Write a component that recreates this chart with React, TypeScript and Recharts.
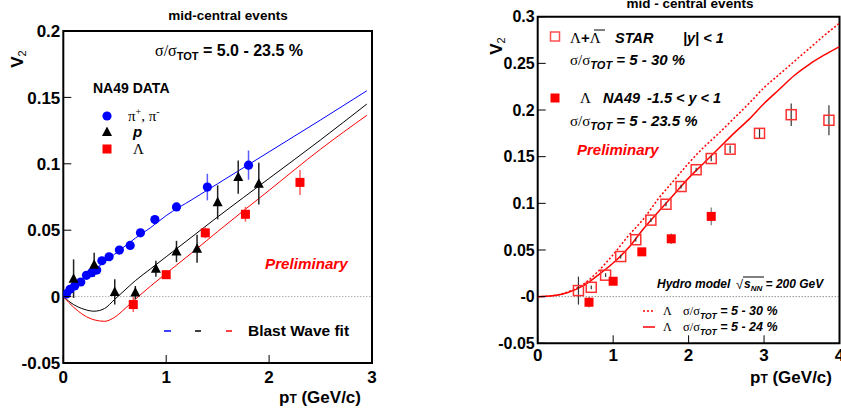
import {
  ComposedChart,
  Scatter,
  Line,
  XAxis,
  YAxis,
  ErrorBar,
  ReferenceLine,
  ReferenceArea,
} from 'recharts';

// left panel: NA49 data with blast wave fits
const pionPt = [0.03, 0.065, 0.11, 0.17, 0.225, 0.275, 0.325, 0.375, 0.445, 0.545, 0.65, 0.75, 0.89, 1.1, 1.4, 1.8];
const pionV2 = [0.002, 0.0055, 0.008, 0.011, 0.016, 0.018, 0.02, 0.027, 0.03, 0.035, 0.0385, 0.048, 0.058, 0.0675, 0.0825, 0.099];
const pionErr = [0, 0, 0, 0, 0, 0, 0, 0, 0, 0, 0, 0, 0, 0.001, 0.01, 0.011];

const protonPt = [0.1, 0.3, 0.5, 0.7, 0.9, 1.1, 1.3, 1.5, 1.7, 1.9];
const protonV2 = [0.0135, 0.024, 0.0035, 0.003, 0.021, 0.034, 0.036, 0.071, 0.09, 0.085];
const protonErr = [0.0145, 0.009, 0.0095, 0.005, 0.006, 0.008, 0.0105, 0.0128, 0.0125, 0.0157];

const lambdaPt = [0.68, 1.0, 1.38, 1.77, 2.3];
const lambdaV2 = [-0.006, 0.0165, 0.048, 0.062, 0.086];
const lambdaErr = [0.0056, 0.003, 0.004, 0.0056, 0.0094];

const bwPt = [0, 0.1, 0.2, 0.3, 0.4, 0.5, 0.6, 0.7, 0.85, 1.0, 1.25, 1.5, 2.0, 2.5, 2.95];
const bwPion = [0, 0.007, 0.0135, 0.02, 0.026, 0.032, 0.038, 0.044, 0.052, 0.061, 0.073, 0.085, 0.109, 0.133, 0.155];
const bwProton = [0, -0.006, -0.0095, -0.011, -0.009, -0.002, 0.005, 0.012, 0.021, 0.03, 0.045, 0.06, 0.089, 0.118, 0.145];
const bwLambda = [0, -0.008, -0.014, -0.0175, -0.0186, -0.0155, -0.009, -0.002, 0.008, 0.0175, 0.033, 0.049, 0.08, 0.111, 0.1365];

// right panel: STAR vs NA49 lambdas, hydro curves
const starPt = [0.54, 0.71, 0.9, 1.1, 1.3, 1.5, 1.7, 1.9, 2.1, 2.3, 2.55, 2.94, 3.36, 3.86];
const starV2 = [0.0065, 0.01, 0.023, 0.043, 0.061, 0.082, 0.099, 0.118, 0.136, 0.148, 0.158, 0.175, 0.195, 0.189];
const starErr = [0.015, 0.002, 0.002, 0.002, 0.002, 0.002, 0.002, 0.002, 0.002, 0.003, 0.004, 0.005, 0.012, 0.016];

const hydroPt = [0, 0.2, 0.4, 0.6, 0.8, 1.0, 1.2, 1.4, 1.6, 1.8, 2.0, 2.2, 2.4, 2.6, 2.8, 3.0, 3.2, 3.4, 3.6, 3.8, 4.0];
const hydro24 = [0, 0.001, 0.0045, 0.0115, 0.023, 0.036, 0.052, 0.0725, 0.091, 0.109, 0.127, 0.143, 0.159, 0.175, 0.19, 0.207, 0.222, 0.237, 0.249, 0.259, 0.268];
const hydro30 = [0, 0.001, 0.005, 0.013, 0.027, 0.045, 0.065, 0.083, 0.105, 0.124, 0.143, 0.16, 0.175, 0.191, 0.207, 0.224, 0.238, 0.252, 0.266, 0.28, 0.293];

const leftXTicks = [0, 1, 2, 3];
const leftYTicks = [-0.05, 0, 0.05, 0.1, 0.15, 0.2];
const rightXTicks = [0, 1, 2, 3, 4];
const rightYTicks = [-0.05, 0, 0.05, 0.1, 0.15, 0.2, 0.25, 0.3];

const pts = (xs: number[], ys: number[], es?: number[]) =>
  xs.map((x, i) => ({ x, y: ys[i], e: es ? es[i] : 0 }));

const SANS = '"Liberation Sans", Arial, sans-serif';
const SERIF = '"Liberation Serif", "Times New Roman", serif';
const RED = '#ff0000';
const BLUE = '#0000ff';

const makeYTick = (fs: number, zero: string) => (props: any) => {
  const { x, y, payload } = props;
  const v = payload.value;
  return (
    <g>
      <line x1={x} x2={x + 8} y1={y} y2={y} stroke="#000" strokeWidth={1} />
      <text x={x - 3} y={y + fs * 0.36} textAnchor="end" fontSize={fs} fontWeight="bold" fontFamily={SANS} fill="#000">
        {v === 0 ? zero : String(v)}
      </text>
    </g>
  );
};

const makeXTick = (fs: number, dy: number) => (props: any) => {
  const { x, y, payload } = props;
  return (
    <g>
      <line x1={x} x2={x} y1={y} y2={y - 8} stroke="#000" strokeWidth={1} />
      <text x={x} y={y + dy} textAnchor="middle" fontSize={fs} fontWeight="bold" fontFamily={SANS} fill="#000">
        {String(payload.value)}
      </text>
    </g>
  );
};

const circleShape = (p: any) => <circle cx={p.cx} cy={p.cy} r={4.6} fill={BLUE} />;
const triShape = (p: any) => (
  <polygon points={`${p.cx},${p.cy - 5.5} ${p.cx - 5},${p.cy + 4} ${p.cx + 5},${p.cy + 4}`} fill="#000" />
);
const squareShape = (p: any) => <rect x={p.cx - 4.5} y={p.cy - 4.5} width={9} height={9} fill={RED} />;
const openSquare = (p: any) => (
  <rect x={p.cx - 5} y={p.cy - 5} width={10} height={10} fill="none" stroke="#ff3030" strokeWidth={1.5} />
);

function LeftPanel() {
  return (
    <ComposedChart
      width={841}
      height={412}
      margin={{ top: 31, right: 469, bottom: 48, left: 62.3 }}
      style={{ position: 'absolute', left: 0, top: 0 }}
    >
      <XAxis dataKey="x" type="number" domain={[0, 3]} ticks={leftXTicks} height={1} tickSize={0} tickMargin={0}
        axisLine={false} tickLine={false} tick={makeXTick(17, 20)} interval={0} allowDataOverflow />
      <YAxis dataKey="y" type="number" domain={[-0.05, 0.2]} ticks={leftYTicks} width={1} tickSize={0} tickMargin={0}
        axisLine={false} tickLine={false} tick={makeYTick(17, '0')} interval={0} allowDataOverflow />
      <ReferenceArea x1={0} x2={3} y1={-0.05} y2={0.2} fill="none" stroke="#000" strokeWidth={2} />
      <ReferenceLine y={0} stroke="#888" strokeDasharray="1 2" strokeWidth={1} />
      <Line data={pts(bwPt, bwPion)} dataKey="y" type="monotone" dot={false} stroke={BLUE} strokeWidth={1} isAnimationActive={false} />
      <Line data={pts(bwPt, bwProton)} dataKey="y" type="monotone" dot={false} stroke="#000" strokeWidth={1} isAnimationActive={false} />
      <Line data={pts(bwPt, bwLambda)} dataKey="y" type="monotone" dot={false} stroke={RED} strokeWidth={1} isAnimationActive={false} />
      <Scatter data={pts(pionPt, pionV2, pionErr)} dataKey="y" shape={circleShape} isAnimationActive={false}>
        <ErrorBar dataKey="e" direction="y" width={0} stroke="#5a5aff" strokeWidth={1.5} />
      </Scatter>
      <Scatter data={pts(protonPt, protonV2, protonErr)} dataKey="y" shape={triShape} isAnimationActive={false}>
        <ErrorBar dataKey="e" direction="y" width={0} stroke="#222" strokeWidth={1.5} />
      </Scatter>
      <Scatter data={pts(lambdaPt, lambdaV2, lambdaErr)} dataKey="y" shape={squareShape} isAnimationActive={false}>
        <ErrorBar dataKey="e" direction="y" width={0} stroke="#ff5a5a" strokeWidth={1.5} />
      </Scatter>
    </ComposedChart>
  );
}

function RightPanel() {
  return (
    <ComposedChart
      width={841}
      height={412}
      margin={{ top: 16.7, right: 1.5, bottom: 67.7, left: 536.7 }}
      style={{ position: 'absolute', left: 0, top: 0 }}
    >
      <XAxis dataKey="x" type="number" domain={[0, 4]} ticks={rightXTicks} height={1} tickSize={0} tickMargin={0}
        axisLine={false} tickLine={false} tick={makeXTick(17, 18)} interval={0} allowDataOverflow />
      <YAxis dataKey="y" type="number" domain={[-0.05, 0.3]} ticks={rightYTicks} width={1} tickSize={0} tickMargin={0}
        axisLine={false} tickLine={false} tick={makeYTick(16, '-0')} interval={0} allowDataOverflow />
      <ReferenceArea x1={0} x2={4} y1={-0.05} y2={0.3} fill="none" stroke="#000" strokeWidth={2} />
      <ReferenceLine y={0} stroke="#555" strokeDasharray="1 2" strokeWidth={1} />
      <Line data={pts(hydroPt, hydro30)} dataKey="y" type="monotone" dot={false} stroke={RED} strokeWidth={1.5}
        strokeDasharray="2 2" isAnimationActive={false} />
      <Line data={pts(hydroPt, hydro24)} dataKey="y" type="monotone" dot={false} stroke={RED} strokeWidth={1.5} isAnimationActive={false} />
      <Scatter data={pts(starPt, starV2, starErr)} dataKey="y" shape={openSquare} isAnimationActive={false}>
        <ErrorBar dataKey="e" direction="y" width={0} stroke="#333" strokeWidth={1.2} />
      </Scatter>
      <Scatter data={pts(lambdaPt, lambdaV2, lambdaErr)} dataKey="y" shape={squareShape} isAnimationActive={false}>
        <ErrorBar dataKey="e" direction="y" width={0} stroke="#777" strokeWidth={1.2} />
      </Scatter>
    </ComposedChart>
  );
}

function SigmaTot({ x, y, fs, sub, rest, italic }: any) {
  return (
    <text x={x} y={y} fontSize={fs} fontWeight="bold" fontFamily={SANS} fontStyle={italic ? 'italic' : 'normal'} fill="#000">
      <tspan fontFamily={SERIF} fontWeight="normal" fontStyle="normal">σ/σ</tspan>
      <tspan fontSize={sub} dy={4}>TOT</tspan>
      <tspan dy={-4}>{rest}</tspan>
    </text>
  );
}

function Overlay() {
  const bold = { fontFamily: SANS, fontWeight: 'bold' as const, fill: '#000' };
  const bi = { ...bold, fontStyle: 'italic' as const };
  return (
    <svg width={841} height={412} style={{ position: 'absolute', left: 0, top: 0, pointerEvents: 'none' }}>
      {/* left panel */}
      <text x={228} y={20} textAnchor="middle" fontSize={13.5} {...bold}>mid-central events</text>
      <text transform="translate(23,59) rotate(-90)" textAnchor="middle" fontSize={17} {...bold}>
        V<tspan fontSize={11} dy={3} fontWeight="normal">2</tspan>
      </text>
      <SigmaTot x={155} y={56} fs={16} sub={11} rest=" = 5.0 - 23.5 %" />
      <text x={93} y={93} fontSize={14} {...bold}>NA49 DATA</text>
      <circle cx={107} cy={116} r={4.6} fill={BLUE} />
      <polygon points="107,126.5 102,136 112,136" fill="#000" />
      <rect x={102.5} y={144.5} width={9} height={9} fill={RED} />
      <text x={128} y={121} fontSize={15} fontFamily={SERIF} fill="#000">
        π<tspan fontSize={10} dy={-6}>+</tspan><tspan dy={6}>, π</tspan><tspan fontSize={10} dy={-6}>-</tspan>
      </text>
      <text x={133} y={137} fontSize={15} {...bi}>p</text>
      <text x={133} y={154} fontSize={15} fontFamily={SERIF} fill="#000">Λ</text>
      <text x={265} y={269} fontSize={15.2} {...bi} fill={RED}>Preliminary</text>
      <line x1={164} x2={171} y1={331} y2={331} stroke={BLUE} strokeWidth={1.5} />
      <line x1={195} x2={201} y1={331} y2={331} stroke="#000" strokeWidth={1.5} />
      <line x1={226} x2={232} y1={331} y2={331} stroke={RED} strokeWidth={1.5} />
      <text x={248} y={336} fontSize={15.5} {...bold}>Blast Wave fit</text>
      <text x={279} y={403} fontSize={17} {...bold}>
        p<tspan fontSize={12}>T</tspan> (GeV/c)
      </text>

      {/* right panel */}
      <text x={690} y={8} textAnchor="middle" fontSize={13.5} {...bold}>mid - central events</text>
      <text transform="translate(502,46) rotate(-90)" textAnchor="middle" fontSize={17} {...bold}>
        V<tspan fontSize={11} dy={3} fontWeight="normal">2</tspan>
      </text>
      <rect x={550.5} y={32} width={9} height={9} fill="none" stroke="#ff5050" strokeWidth={1.5} />
      <text x={570} y={43} fontSize={15} fontFamily={SERIF} fill="#000">
        Λ<tspan fontFamily={SANS} fontWeight="bold">+</tspan>Λ
      </text>
      <line x1={594} x2={605} y1={30} y2={30} stroke="#000" strokeWidth={1} />
      <text x={615} y={43} fontSize={14.5} {...bi}>STAR</text>
      <text x={683} y={43} fontSize={14.5} {...bi}>|y| &lt; 1</text>
      <SigmaTot x={570} y={65} fs={15} sub={11} rest=" = 5 - 30 %" italic />
      <rect x={550.5} y={93.5} width={9} height={9} fill={RED} />
      <text x={580} y={103} fontSize={15} fontFamily={SERIF} fill="#000">Λ</text>
      <text x={603} y={103} fontSize={14.5} {...bi}>NA49</text>
      <text x={647} y={103} fontSize={14.5} {...bi}>-1.5 &lt; y &lt; 1</text>
      <SigmaTot x={570} y={126} fs={15} sub={11} rest=" = 5 - 23.5 %" italic />
      <text x={577} y={155} fontSize={15} {...bi} fill={RED}>Preliminary</text>

      <text x={657} y={288} fontSize={12} {...bi}>Hydro model</text>
      <text x={736} y={289} fontSize={13} fontFamily={SANS} fill="#000">√</text>
      <line x1={743} x2={764} y1={277} y2={277} stroke="#000" strokeWidth={1} />
      <text x={744} y={288} fontSize={12} {...bi}>
        s<tspan fontSize={8} dy={3}>NN</tspan><tspan dy={-3}> = 200 GeV</tspan>
      </text>
      <line x1={643} x2={655} y1={311} y2={311} stroke={RED} strokeWidth={1.5} strokeDasharray="2 2" />
      <text x={663} y={315} fontSize={12} fontFamily={SERIF} fill="#000">Λ</text>
      <SigmaTot x={683} y={315} fs={12.5} sub={8.5} rest=" = 5 - 30 %" italic />
      <line x1={643} x2={655} y1={327} y2={327} stroke={RED} strokeWidth={1.5} />
      <text x={663} y={331} fontSize={12} fontFamily={SERIF} fill="#000">Λ</text>
      <SigmaTot x={683} y={331} fs={12.5} sub={8.5} rest=" = 5 - 24 %" italic />
      <text x={750} y={383} fontSize={17} {...bold}>
        p<tspan fontSize={12}>T</tspan> (GeV/c)
      </text>
    </svg>
  );
}

export default function App() {
  return (
    <div style={{ position: 'absolute', left: 0, top: 0, width: 841, height: 412, background: '#fff' }}>
      <LeftPanel />
      <RightPanel />
      <Overlay />
    </div>
  );
}
